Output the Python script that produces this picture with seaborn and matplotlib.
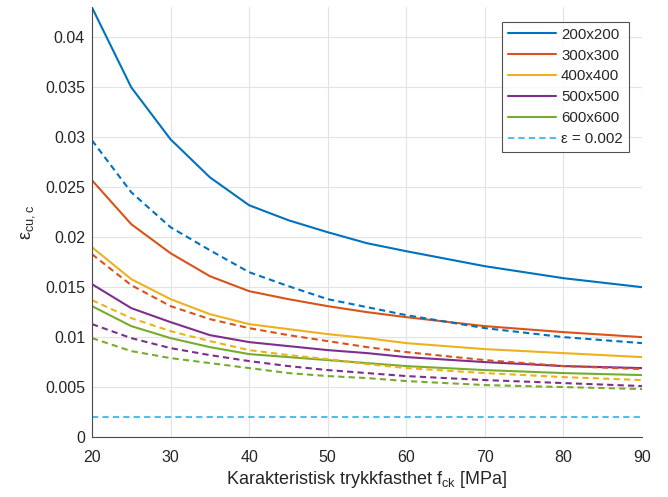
import matplotlib
matplotlib.use("Agg")
import matplotlib.pyplot as plt
from matplotlib.ticker import FuncFormatter, MultipleLocator
import pandas as pd
import seaborn as sns

# Concrete strength classes (MPa)
fck = [20, 25, 30, 35, 40, 45, 50, 55, 60, 70, 80, 90]

sections = ["200x200", "300x300", "400x400", "500x500", "600x600"]

# Ultimate strain of confined concrete, solid curves
eps_solid = {
    "200x200": [0.0430, 0.0350, 0.0298, 0.0260, 0.0232, 0.0217, 0.0205, 0.0194, 0.0186, 0.0171, 0.0159, 0.0150],
    "300x300": [0.0257, 0.0213, 0.0184, 0.0161, 0.0146, 0.0138, 0.0131, 0.0125, 0.0120, 0.0111, 0.0105, 0.0100],
    "400x400": [0.0190, 0.0158, 0.0138, 0.0123, 0.0113, 0.0108, 0.0103, 0.0099, 0.0094, 0.0088, 0.0084, 0.0080],
    "500x500": [0.0153, 0.0129, 0.0115, 0.0102, 0.0095, 0.0091, 0.0087, 0.0084, 0.0080, 0.0075, 0.0071, 0.0069],
    "600x600": [0.0131, 0.0111, 0.0099, 0.0090, 0.0083, 0.0080, 0.0077, 0.0074, 0.0071, 0.0067, 0.0064, 0.0062],
}

# Dashed curves (alternative confinement)
eps_dashed = {
    "200x200": [0.0297, 0.0245, 0.0210, 0.0187, 0.0165, 0.0151, 0.0138, 0.0130, 0.0122, 0.0109, 0.0100, 0.0094],
    "300x300": [0.0183, 0.0152, 0.0131, 0.0118, 0.0109, 0.0102, 0.0096, 0.0090, 0.0085, 0.0077, 0.0071, 0.0068],
    "400x400": [0.0137, 0.0119, 0.0106, 0.0096, 0.0087, 0.0082, 0.0078, 0.0073, 0.0069, 0.0064, 0.0060, 0.0057],
    "500x500": [0.0113, 0.0099, 0.0089, 0.0082, 0.0076, 0.0071, 0.0067, 0.0064, 0.0061, 0.0057, 0.0054, 0.0051],
    "600x600": [0.0099, 0.0086, 0.0079, 0.0074, 0.0069, 0.0064, 0.0061, 0.0059, 0.0056, 0.0052, 0.0050, 0.0048],
}

eps_limit = 0.002
limit_range = [20, 90]

colors = ["#0072BD", "#D95319", "#EDB120", "#7E2F8E", "#77AC30"]
limit_color = "#4DBEEE"

sns.set_theme(style="white")
plt.rcParams["font.family"] = ["Liberation Sans", "DejaVu Sans"]
plt.rcParams["mathtext.fontset"] = "custom"
plt.rcParams["mathtext.rm"] = "Liberation Sans"
plt.rcParams["mathtext.it"] = "Liberation Sans:italic"

fig = plt.figure(figsize=(6.68, 4.97), dpi=100)
ax = fig.add_axes([0.1377, 0.1207, 0.961 - 0.1377, 0.985 - 0.1207])

lw = 1.5
dash = (0, (3, 2))

for name, c in zip(sections, colors):
    df = pd.DataFrame({"fck": fck, "eps": eps_solid[name]})
    sns.lineplot(data=df, x="fck", y="eps", color=c, linewidth=lw, label=name, ax=ax)

for name, c in zip(sections, colors):
    df = pd.DataFrame({"fck": fck, "eps": eps_dashed[name]})
    sns.lineplot(data=df, x="fck", y="eps", color=c, linewidth=lw, linestyle=dash,
                 legend=False, ax=ax)

lim_df = pd.DataFrame({"fck": limit_range, "eps": [eps_limit, eps_limit]})
sns.lineplot(data=lim_df, x="fck", y="eps", color=limit_color, linewidth=lw,
             linestyle=dash, label="ε = 0.002", ax=ax)

ax.set_xlim(20, 90)
ax.set_ylim(0, 0.043)
ax.xaxis.set_major_locator(MultipleLocator(10))
ax.yaxis.set_major_locator(MultipleLocator(0.005))
ax.yaxis.set_major_formatter(FuncFormatter(lambda v, p: f"{v:g}"))

ax.grid(True, color="#E3E3E3", linewidth=0.8)
ax.set_axisbelow(True)
for side in ("top", "right"):
    ax.spines[side].set_visible(False)
for side in ("left", "bottom"):
    ax.spines[side].set_color("#4A4A4A")
    ax.spines[side].set_linewidth(0.8)

ax.tick_params(axis="both", direction="in", length=4, width=0.8, color="#4A4A4A",
               labelsize=11.5, labelcolor="#262626", pad=5)
ax.tick_params(axis="x", pad=9.5)

ax.set_xlabel(r"Karakteristisk trykkfasthet $\mathregular{f_{ck}}$ [MPa]",
              fontsize=13, color="#262626", labelpad=3)
ax.set_ylabel(r"$\mathregular{ε_{cu,c}}$", fontsize=13, color="#262626", labelpad=6)

leg = ax.legend(loc="upper right", bbox_to_anchor=(0.976, 0.967), borderaxespad=0,
                fontsize=10.8, handlelength=3.2, frameon=True, fancybox=False,
                labelspacing=0.46, borderpad=0.4, handletextpad=0.35)
leg.get_frame().set_edgecolor("#262626")
leg.get_frame().set_linewidth(0.8)
for t in leg.get_texts():
    t.set_color("#262626")

fig.savefig("out.png", dpi=100)
